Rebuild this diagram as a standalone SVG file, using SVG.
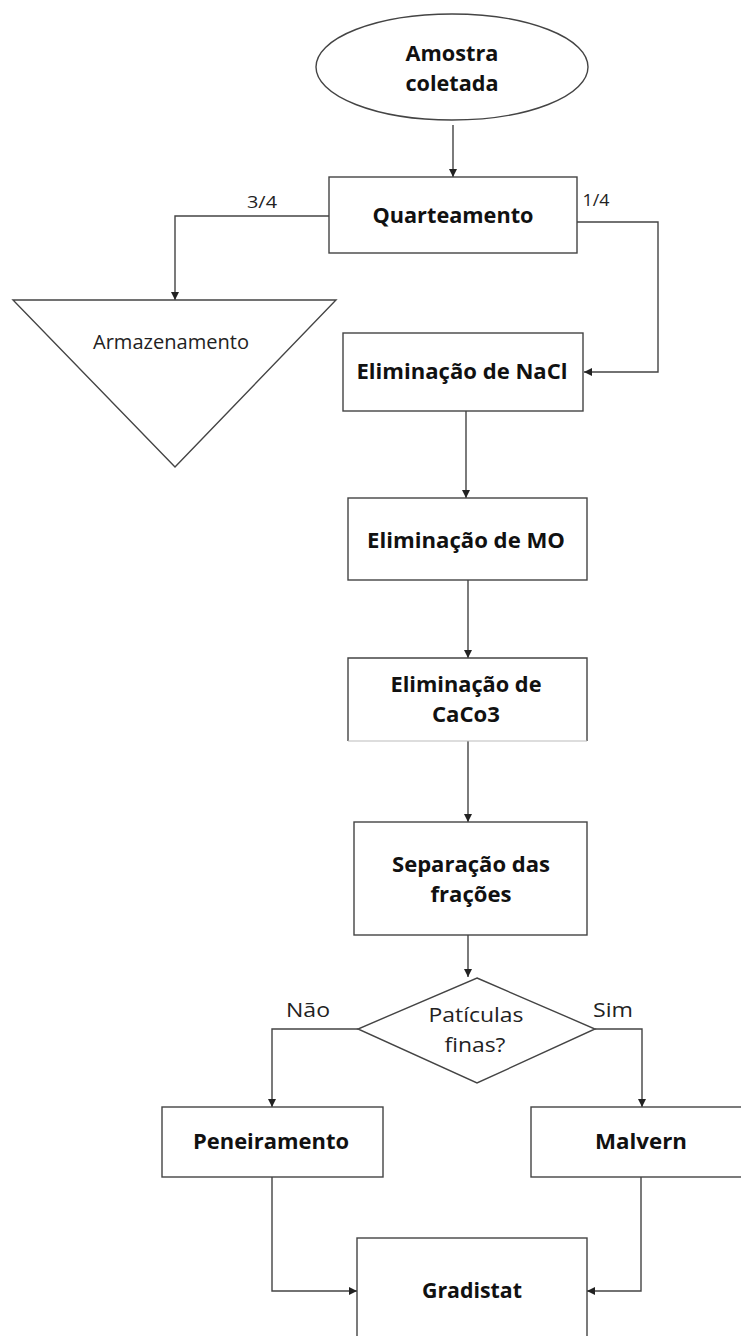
<svg xmlns="http://www.w3.org/2000/svg" width="741" height="1336" viewBox="0 0 741 1336">
<defs>
<style>
.shape{fill:#fff;stroke:#444;stroke-width:1.4}
.conn{fill:none;stroke:#444;stroke-width:1.4}
.b{font-family:"Open Sans","Liberation Sans",sans-serif;font-weight:bold;font-size:21px;fill:#111;text-anchor:middle}
.r{font-family:"Open Sans","Liberation Sans",sans-serif;font-size:20px;fill:#222;text-anchor:middle}
.s{font-family:"Open Sans","Liberation Sans",sans-serif;font-size:17px;fill:#222;text-anchor:middle}
</style>
<marker id="ah" viewBox="0 0 10 10" refX="10" refY="5" markerWidth="8" markerHeight="8" markerUnits="userSpaceOnUse" orient="auto">
<path d="M0,0 L10,5 L0,10 z" fill="#222"/>
</marker>
</defs>
<rect width="741" height="1336" fill="#fff"/>
<g id="connectors">
<path class="conn" d="M453,125 L453,177" marker-end="url(#ah)"/>
<path class="conn" d="M329,216 L175,216 L175,300" marker-end="url(#ah)"/>
<path class="conn" d="M577,222 L658,222 L658,372 L584,372" marker-end="url(#ah)"/>
<path class="conn" d="M466,411 L466,498" marker-end="url(#ah)"/>
<path class="conn" d="M468,580 L468,658" marker-end="url(#ah)"/>
<path class="conn" d="M468,741 L468,822" marker-end="url(#ah)"/>
<path class="conn" d="M468,935 L468,977" marker-end="url(#ah)"/>
<path class="conn" d="M358,1029 L272,1029 L272,1107" marker-end="url(#ah)"/>
<path class="conn" d="M595,1029 L642,1029 L642,1107" marker-end="url(#ah)"/>
<path class="conn" d="M272,1177 L272,1291 L357,1291" marker-end="url(#ah)"/>
<path class="conn" d="M641,1177 L641,1291 L587,1291" marker-end="url(#ah)"/>
<text class="s" x="262" y="208" textLength="30" lengthAdjust="spacingAndGlyphs">3/4</text>
<text class="s" x="596" y="206" textLength="27" lengthAdjust="spacingAndGlyphs">1/4</text>
<text class="r" x="308" y="1017" textLength="44" lengthAdjust="spacingAndGlyphs">Não</text>
<text class="r" x="613" y="1017" textLength="40" lengthAdjust="spacingAndGlyphs">Sim</text>
</g>
<g id="amostra">
<ellipse class="shape" cx="452" cy="67" rx="136" ry="53"/>
<text class="b" x="452" y="61" textLength="93" lengthAdjust="spacingAndGlyphs">Amostra</text>
<text class="b" x="452" y="91" textLength="93" lengthAdjust="spacingAndGlyphs">coletada</text>
</g>
<g id="quarteamento">
<rect class="shape" x="329" y="177" width="248" height="76"/>
<text class="b" x="453" y="223" textLength="161" lengthAdjust="spacingAndGlyphs">Quarteamento</text>
</g>
<g id="armazenamento">
<polygon class="shape" points="13,300 336,300 175,467"/>
<text class="r" x="171" y="349" textLength="156" lengthAdjust="spacingAndGlyphs">Armazenamento</text>
</g>
<g id="nacl">
<rect class="shape" x="343" y="333" width="240" height="78"/>
<text class="b" x="462" y="379" textLength="211" lengthAdjust="spacingAndGlyphs">Eliminação de NaCl</text>
</g>
<g id="mo">
<rect class="shape" x="348" y="498" width="239" height="82"/>
<text class="b" x="466" y="548" textLength="198" lengthAdjust="spacingAndGlyphs">Eliminação de MO</text>
</g>
<g id="caco3">
<rect x="348" y="658" width="239" height="83" fill="#fff" stroke="none"/>
<path class="conn" d="M348,741 L348,658 L587,658 L587,741"/>
<path d="M348,741 L587,741" fill="none" stroke="#bbb" stroke-width="1.2"/>
<text class="b" x="466" y="692" textLength="151" lengthAdjust="spacingAndGlyphs">Eliminação de</text>
<text class="b" x="466" y="722" textLength="68" lengthAdjust="spacingAndGlyphs">CaCo3</text>
</g>
<g id="separacao">
<rect class="shape" x="354" y="822" width="233" height="113"/>
<text class="b" x="471" y="872" textLength="158" lengthAdjust="spacingAndGlyphs">Separação das</text>
<text class="b" x="471" y="902" textLength="81" lengthAdjust="spacingAndGlyphs">frações</text>
</g>
<g id="particulas">
<polygon class="shape" points="477,978 595,1029 477,1083 358,1029"/>
<text class="r" x="476" y="1022" textLength="95" lengthAdjust="spacingAndGlyphs">Patículas</text>
<text class="r" x="475" y="1052" textLength="61" lengthAdjust="spacingAndGlyphs">finas?</text>
</g>
<g id="peneiramento">
<rect class="shape" x="162" y="1107" width="221" height="70"/>
<text class="b" x="271" y="1149" textLength="156" lengthAdjust="spacingAndGlyphs">Peneiramento</text>
</g>
<g id="malvern">
<rect class="shape" x="531" y="1107" width="220" height="70"/>
<text class="b" x="641" y="1149" textLength="92" lengthAdjust="spacingAndGlyphs">Malvern</text>
</g>
<g id="gradistat">
<rect class="shape" x="357" y="1238" width="230" height="110"/>
<text class="b" x="472" y="1298" textLength="100" lengthAdjust="spacingAndGlyphs">Gradistat</text>
</g>
</svg>
